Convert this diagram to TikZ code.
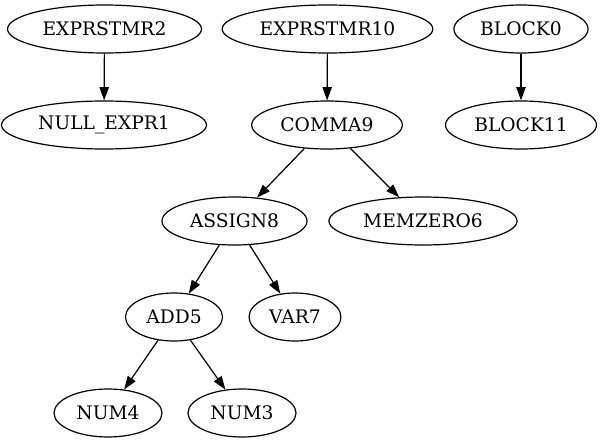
\documentclass[tikz,border=0pt]{standalone}
\usepackage{fontspec}
\setmainfont{DejaVu Serif}
\usepackage{tikz}
\usetikzlibrary{arrows.meta, shapes.geometric}

\begin{document}
\begin{tikzpicture}[
      x=0.75pt,
      y=-0.75pt,
      font=\fontsize{14pt}{16pt}\selectfont,
      astnode/.style={
        ellipse,
        draw=black,
        line width=0.9pt,
        minimum height=36pt,
        inner xsep=5pt,
        inner ysep=0pt
      },
      edge/.style={
        -{Triangle[length=10pt, width=7pt]},
        line width=0.9pt,
        draw=black
      }
  ]

    \useasboundingbox (0,0) rectangle (601,443);

    % rank 0
    \node[astnode] (exprstmr2)  at (104.5,29) {EXPRSTMR2};
    \node[astnode] (exprstmr10) at (327.5,29) {EXPRSTMR10};
    \node[astnode] (block0)     at (521,29)   {BLOCK0};

    % rank 1
    \node[astnode] (nullexpr1)  at (104,125)  {NULL\_EXPR1};
    \node[astnode] (comma9)     at (327,125)  {COMMA9};
    \node[astnode] (block11)    at (521,125)  {BLOCK11};

    % rank 2
    \node[astnode] (assign8)    at (234.5,221) {ASSIGN8};
    \node[astnode] (memzero6)   at (423,221)   {MEMZERO6};

    % rank 3
    \node[astnode] (add5)       at (174,317)  {ADD5};
    \node[astnode] (var7)       at (295,317)  {VAR7};

    % rank 4
    \node[astnode] (num4)       at (108,413)  {NUM4};
    \node[astnode] (num3)       at (242,413)  {NUM3};

    \draw[edge] (exprstmr2) -- (nullexpr1);
    \draw[edge] (exprstmr10) -- (comma9);
    \draw[edge] (block0) -- (block11);
    \draw[edge] (comma9) -- (assign8);
    \draw[edge] (comma9) -- (memzero6);
    \draw[edge] (assign8) -- (add5);
    \draw[edge] (assign8) -- (var7);
    \draw[edge] (add5) -- (num4);
    \draw[edge] (add5) -- (num3);

  \end{tikzpicture}
\end{document}
